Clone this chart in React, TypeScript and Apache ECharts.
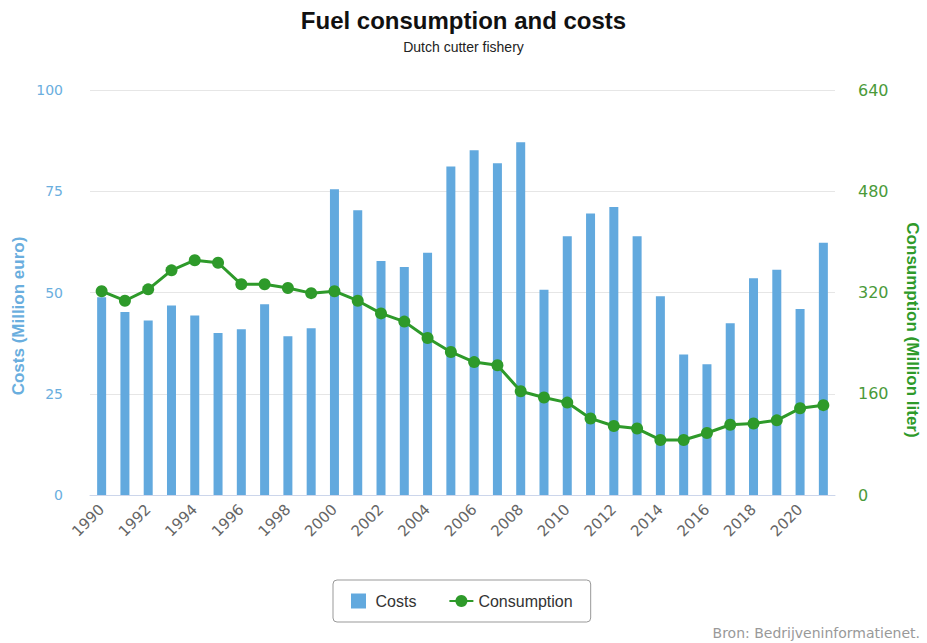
import React, { useEffect, useRef } from "react";
import * as echarts from "echarts";

const years: string[] = [
  "1990","1991","1992","1993","1994","1995","1996","1997","1998","1999",
  "2000","2001","2002","2003","2004","2005","2006","2007","2008","2009",
  "2010","2011","2012","2013","2014","2015","2016","2017","2018","2019",
  "2020","2021",
];

const costs: number[] = [
  48.8, 45.2, 43.1, 46.8, 44.3, 40.0, 40.9, 47.1, 39.2, 41.2,
  75.5, 70.3, 57.8, 56.3, 59.8, 81.1, 85.1, 81.9, 87.1, 50.7,
  63.9, 69.5, 71.1, 63.9, 49.1, 34.7, 32.3, 42.4, 53.5, 55.6,
  45.9, 62.3,
];

const consumption: number[] = [
  322, 307, 325, 355, 371, 367, 333, 333, 327, 319,
  322, 307, 287, 274, 248, 226, 210, 205, 164, 154,
  146, 121, 109, 105, 87, 87, 98, 111, 113, 118,
  137, 142,
];

const costTicks = { min: 0, max: 100, interval: 25 };
const consTicks = { min: 0, max: 640, interval: 160 };

const BLUE = "#62a9de";
const BLUE_TEXT = "#6aaede";
const GREEN = "#2e9a2a";
const GREEN_TEXT = "#4a9a3a";

export default function App() {
  const ref = useRef<HTMLDivElement>(null);
  useEffect(() => {
    if (!ref.current) return;
    const chart = echarts.init(ref.current, null, { renderer: "svg" });
    chart.setOption({
      animation: false,
      backgroundColor: "#ffffff",
      title: {
        text: "Fuel consumption and costs",
        subtext: "Dutch cutter fishery",
        left: "center",
        top: 3,
        itemGap: 8,
        textStyle: {
          fontFamily: "Liberation Sans",
          fontSize: 24,
          fontWeight: "bold",
          color: "#111",
        },
        subtextStyle: {
          fontFamily: "Liberation Sans",
          fontSize: 14,
          color: "#222",
        },
      },
      grid: { left: 90, right: 92, top: 90, bottom: 148, containLabel: false },
      legend: {
        left: 333,
        top: 580,
        padding: [13, 18, 13, 18],
        itemGap: 32,
        itemWidth: 24,
        itemHeight: 15,
        borderColor: "#999",
        borderWidth: 1,
        borderRadius: 4,
        symbolKeepAspect: true,
        textStyle: { fontFamily: "Liberation Sans", fontSize: 16, color: "#333" },
        data: [
          { name: "Costs", icon: "path://M0,0L10,0L10,10L0,10Z" },
          { name: "Consumption" },
        ],
      },
      xAxis: {
        type: "category",
        data: years,
        boundaryGap: true,
        axisLine: { lineStyle: { color: "#ccd6eb" } },
        axisTick: {
          alignWithLabel: true,
          interval: 1,
          length: 10,
          lineStyle: { color: "#ccd6eb" },
        },
        axisLabel: {
          interval: 1,
          rotate: 45,
          margin: 12,
          fontFamily: "DejaVu Sans",
          fontSize: 15,
          color: "#666",
        },
      },
      yAxis: [
        {
          type: "value",
          min: costTicks.min,
          max: costTicks.max,
          interval: costTicks.interval,
          axisLine: { show: false },
          axisTick: { show: false },
          splitLine: { lineStyle: { color: "#e6e6e6" } },
          axisLabel: {
            margin: 27,
            fontFamily: "DejaVu Sans",
            fontSize: 14,
            color: BLUE_TEXT,
          },
        },
        {
          type: "value",
          min: consTicks.min,
          max: consTicks.max,
          interval: consTicks.interval,
          position: "right",
          axisLine: { show: false },
          axisTick: { show: false },
          splitLine: { show: false },
          axisLabel: {
            margin: 23,
            fontFamily: "DejaVu Sans",
            fontSize: 16,
            color: GREEN_TEXT,
          },
        },
      ],
      series: [
        {
          name: "Costs",
          type: "bar",
          yAxisIndex: 0,
          data: costs,
          barWidth: 9,
          itemStyle: { color: BLUE },
        },
        {
          name: "Consumption",
          type: "line",
          yAxisIndex: 1,
          data: consumption,
          symbol: "circle",
          symbolSize: 12,
          lineStyle: { color: GREEN, width: 3 },
          itemStyle: { color: GREEN },
          z: 3,
        },
      ],
      graphic: [
        {
          type: "text",
          x: 18,
          y: 316,
          rotation: Math.PI / 2,
          style: {
            text: "Costs (Million euro)",
            align: "center",
            verticalAlign: "middle",
            fontFamily: "Liberation Sans",
            fontSize: 17,
            fontWeight: "bold",
            fill: BLUE_TEXT,
          },
        },
        {
          type: "text",
          x: 912,
          y: 330,
          rotation: -Math.PI / 2,
          style: {
            text: "Consumption (Million liter)",
            align: "center",
            verticalAlign: "middle",
            fontFamily: "Liberation Sans",
            fontSize: 17,
            fontWeight: "bold",
            fill: GREEN,
          },
        },
        {
          type: "text",
          right: 7,
          top: 626,
          style: {
            text: "Bron: Bedrijveninformatienet.",
            fontFamily: "DejaVu Sans",
            fontSize: 14,
            fill: "#999",
          },
        },
      ],
    });
    return () => chart.dispose();
  }, []);
  return (
    <div
      ref={ref}
      style={{ position: "absolute", left: 0, top: 0, width: 927, height: 643 }}
    />
  );
}
